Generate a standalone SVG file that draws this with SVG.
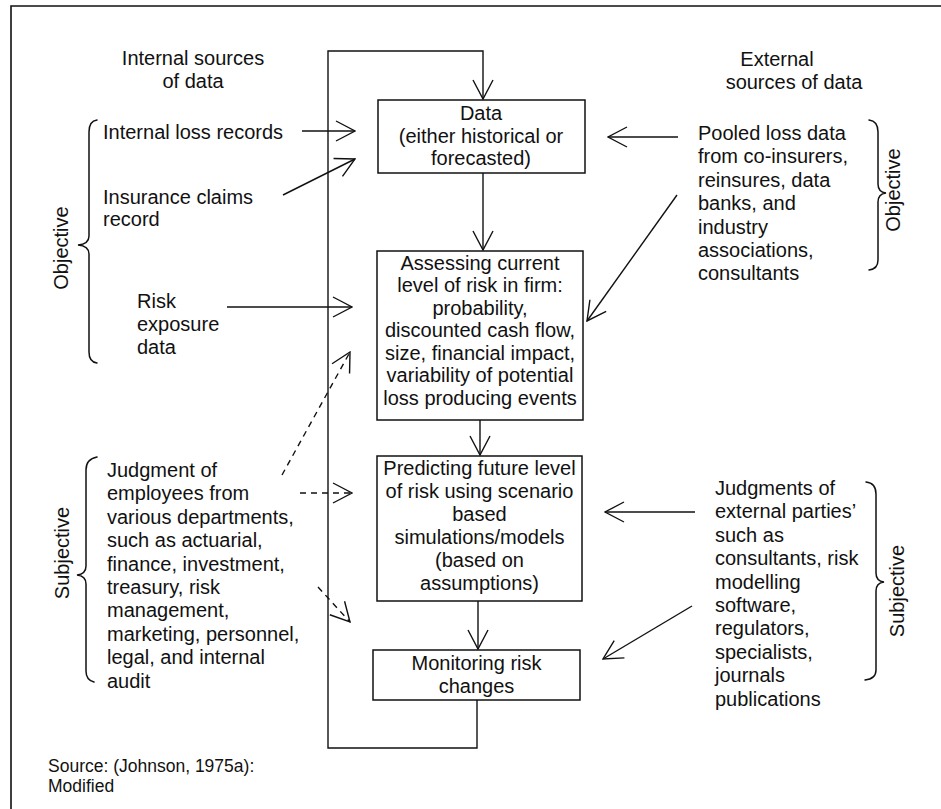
<svg xmlns="http://www.w3.org/2000/svg" width="941" height="809" viewBox="0 0 941 809">
  <style>
    text { font-family: "Liberation Sans", Arial, sans-serif; font-size: 20px; fill: #111; }
    .c { text-anchor: middle; }
    .src { font-size: 17.5px; }
    .box { fill: #fff; stroke: #111; stroke-width: 1.5; }
    .ln { fill: none; stroke: #111; stroke-width: 1.4; }
    .dash { stroke-dasharray: 6 5; }
    .brace { fill: none; stroke: #111; stroke-width: 1.5; stroke-linecap: round; }
    .frame { fill: none; stroke: #111; stroke-width: 1.6; }
  </style>
  <defs>
    <marker id="arr" viewBox="0 0 21 22" refX="20" refY="11" markerWidth="21" markerHeight="22" markerUnits="userSpaceOnUse" orient="auto">
      <path d="M1,1 L20,11 L1,21" fill="none" stroke="#111" stroke-width="1.4" stroke-dasharray="none"/>
    </marker>
  </defs>

  <rect width="941" height="809" fill="#fff"/>

  <!-- page frame -->
  <path class="frame" d="M11,809 L11,6 L941,6"/>

  <!-- column headings -->
  <g id="internal-heading">
    <text class="c" x="193" y="65">Internal sources</text>
    <text class="c" x="193" y="88">of data</text>
  </g>
  <g id="external-heading">
    <text class="c" x="777" y="66">External</text>
    <text class="c" x="794" y="89">sources of data</text>
  </g>

  <!-- process boxes -->
  <g id="data">
    <rect class="box" x="378" y="100" width="207" height="73"/>
    <text class="c" x="481" y="120">Data</text>
    <text class="c" x="481" y="143">(either historical or</text>
    <text class="c" x="481" y="165">forecasted)</text>
  </g>
  <g id="assess">
    <rect class="box" x="377" y="251" width="206" height="169"/>
    <text class="c" x="480" y="269.5">Assessing current</text>
    <text class="c" x="480" y="292">level of risk in firm:</text>
    <text class="c" x="480" y="314.5">probability,</text>
    <text class="c" x="480" y="337">discounted cash flow,</text>
    <text class="c" x="480" y="359.5">size, financial impact,</text>
    <text class="c" x="480" y="382">variability of potential</text>
    <text class="c" x="480" y="404.5">loss producing events</text>
  </g>
  <g id="predict">
    <rect class="box" x="377" y="456" width="205" height="145"/>
    <text class="c" x="479.5" y="475">Predicting future level</text>
    <text class="c" x="479.5" y="498">of risk using scenario</text>
    <text class="c" x="479.5" y="521">based</text>
    <text class="c" x="479.5" y="544">simulations/models</text>
    <text class="c" x="479.5" y="567">(based on</text>
    <text class="c" x="479.5" y="590">assumptions)</text>
  </g>
  <g id="monitor">
    <rect class="box" x="373" y="650" width="207" height="50"/>
    <text class="c" x="476.5" y="670">Monitoring risk</text>
    <text class="c" x="476.5" y="693">changes</text>
  </g>

  <!-- internal sources -->
  <g id="internal-loss">
    <text x="103" y="139">Internal loss records</text>
  </g>
  <g id="insurance-claims">
    <text x="103" y="204">Insurance claims</text>
    <text x="103" y="226">record</text>
  </g>
  <g id="risk-exposure">
    <text x="137" y="308">Risk</text>
    <text x="137" y="331">exposure</text>
    <text x="137" y="354">data</text>
  </g>
  <g id="employee-judgment">
    <text x="107" y="477">Judgment of</text>
    <text x="107" y="500.4">employees from</text>
    <text x="107" y="523.8">various departments,</text>
    <text x="107" y="547.2">such as actuarial,</text>
    <text x="107" y="570.6">finance, investment,</text>
    <text x="107" y="594">treasury, risk</text>
    <text x="107" y="617.4">management,</text>
    <text x="107" y="640.8">marketing, personnel,</text>
    <text x="107" y="664.2">legal, and internal</text>
    <text x="107" y="687.6">audit</text>
  </g>

  <!-- external sources -->
  <g id="pooled-loss">
    <text x="698" y="140">Pooled loss data</text>
    <text x="698" y="163.4">from co-insurers,</text>
    <text x="698" y="186.8">reinsures, data</text>
    <text x="698" y="210.2">banks, and</text>
    <text x="698" y="233.6">industry</text>
    <text x="698" y="257">associations,</text>
    <text x="698" y="280.4">consultants</text>
  </g>
  <g id="external-judgment">
    <text x="715" y="495">Judgments of</text>
    <text x="715" y="518.4">external parties’</text>
    <text x="715" y="541.8">such as</text>
    <text x="715" y="565.2">consultants, risk</text>
    <text x="715" y="588.6">modelling</text>
    <text x="715" y="612">software,</text>
    <text x="715" y="635.4">regulators,</text>
    <text x="715" y="658.8">specialists,</text>
    <text x="715" y="682.2">journals</text>
    <text x="715" y="705.6">publications</text>
  </g>

  <!-- grouping braces and their labels -->
  <g id="left-objective">
    <path class="brace" d="M97,120 Q89,121 89,132 L89,236 Q89,244 78,245 Q89,246 89,254 L89,352 Q89,362 97,363"/>
    <text class="c" transform="translate(68,248) rotate(-90)">Objective</text>
  </g>
  <g id="left-subjective">
    <path class="brace" d="M97,457 Q86,459 86,470 L86,566 Q86,574 77,575 Q86,576 86,584 L86,671 Q86,680 94,682"/>
    <text class="c" transform="translate(69,553) rotate(-90)">Subjective</text>
  </g>
  <g id="right-objective">
    <path class="brace" d="M869,120 Q878,121 878,132 L878,184 Q878,192 886,193 Q878,194 878,202 L878,260 Q878,269 869,270"/>
    <text class="c" transform="translate(900,190) rotate(-90)">Objective</text>
  </g>
  <g id="right-subjective">
    <path class="brace" d="M866,482 Q876,483 876,494 L876,573 Q876,581 884,582 Q876,583 876,591 L876,670 Q876,679 865,680"/>
    <text class="c" transform="translate(904,591) rotate(-90)">Subjective</text>
  </g>

  <!-- connectors -->
  <g id="connectors">
    <path class="ln" d="M477,700 L477,748 L328,748 L328,51 L483,51 L483,99" marker-end="url(#arr)"/>
    <path class="ln" d="M483,173 L483,250" marker-end="url(#arr)"/>
    <path class="ln" d="M480,420 L480,455" marker-end="url(#arr)"/>
    <path class="ln" d="M478,601 L478,649" marker-end="url(#arr)"/>

    <path class="ln" d="M302,131 L355,131" marker-end="url(#arr)"/>
    <path class="ln" d="M283,195 L355,159" marker-end="url(#arr)"/>
    <path class="ln" d="M227,307 L352,307" marker-end="url(#arr)"/>
    <path class="ln dash" d="M282,475 L350,352" marker-end="url(#arr)"/>
    <path class="ln dash" d="M300,493 L352,493" marker-end="url(#arr)"/>
    <path class="ln dash" d="M318,587 L350,622" marker-end="url(#arr)"/>

    <path class="ln" d="M678,137 L608,137" marker-end="url(#arr)"/>
    <path class="ln" d="M677,195 L587,321" marker-end="url(#arr)"/>
    <path class="ln" d="M695,512 L605,512" marker-end="url(#arr)"/>
    <path class="ln" d="M692,606 L603,659" marker-end="url(#arr)"/>
  </g>

  <!-- citation -->
  <g id="source-note">
    <text class="src" x="48" y="772">Source: (Johnson, 1975a):</text>
    <text class="src" x="48" y="792">Modified</text>
  </g>
</svg>
